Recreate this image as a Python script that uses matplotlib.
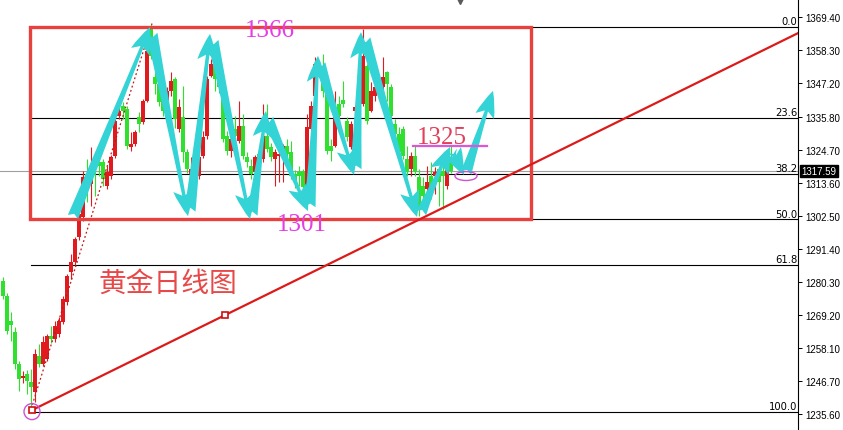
import matplotlib
matplotlib.use('Agg')
import matplotlib.pyplot as plt
import matplotlib.transforms as mtransforms
from matplotlib.patches import Rectangle, Ellipse, FancyArrowPatch

# ---------------- data ----------------
OPEN = [1280.5, 1275.5, 1267.0, 1263.3, 1252.6, 1247.8, 1249.2, 1246.5, 1243.1, 1255.2,
        1252.5, 1254.2, 1262.0, 1261.0, 1262.7, 1266.7, 1273.4, 1283.6, 1287.0, 1295.3,
        1302.1, 1316.6, 1313.2, 1322.3, 1320.6, 1320.6, 1312.5, 1315.9, 1322.7, 1336.1,
        1339.5, 1338.5, 1325.7, 1326.7, 1335.8, 1334.1, 1341.2, 1366.1, 1349.3, 1346.9,
        1342.9, 1339.5, 1344.6, 1348.6, 1331.8, 1335.8, 1324.0, 1316.6, 1318.3, 1315.9,
        1322.7, 1329.4, 1349.6, 1353.7, 1347.9, 1345.9, 1329.4, 1324.4, 1331.8, 1327.7,
        1332.8, 1322.3, 1319.3, 1317.3, 1323.3, 1321.7, 1329.4, 1325.7, 1321.7, 1322.7,
        1324.0, 1326.0, 1324.0, 1316.6, 1317.3, 1317.6, 1311.5, 1331.8, 1342.9, 1351.3,
        1353.0, 1345.2, 1326.0, 1326.0, 1340.2, 1341.5, 1334.5, 1325.7, 1337.8, 1335.1,
        1340.2, 1353.0, 1337.8, 1342.9, 1346.5, 1345.9, 1351.0, 1345.9, 1333.4, 1330.1,
        1331.8, 1321.6, 1318.3, 1322.7, 1315.6, 1312.5, 1311.5, 1315.9, 1315.9, 1318.3,
        1317.6, 1312.5, 1321.0]
HIGH = [1281.9, 1276.5, 1270.1, 1265.0, 1253.5, 1250.2, 1250.5, 1250.9, 1257.6, 1259.3,
        1262.0, 1262.7, 1265.4, 1267.0, 1268.4, 1275.5, 1282.9, 1289.6, 1295.5, 1304.0,
        1317.6, 1321.6, 1325.7, 1324.0, 1322.0, 1321.6, 1319.3, 1323.0, 1335.0, 1339.5,
        1340.9, 1339.5, 1330.8, 1331.5, 1337.5, 1342.0, 1359.7, 1367.1, 1352.0, 1348.0,
        1344.0, 1346.0, 1351.0, 1349.3, 1341.9, 1346.2, 1325.0, 1322.3, 1320.6, 1322.7,
        1331.1, 1349.5, 1355.3, 1354.3, 1349.0, 1346.2, 1331.0, 1331.8, 1336.1, 1341.2,
        1336.8, 1324.0, 1321.6, 1323.0, 1325.0, 1340.2, 1340.2, 1327.0, 1325.0, 1324.4,
        1326.7, 1328.4, 1327.7, 1318.0, 1319.3, 1318.3, 1336.8, 1341.2, 1356.0, 1354.7,
        1357.0, 1345.5, 1328.4, 1344.6, 1342.9, 1347.9, 1335.8, 1334.5, 1340.0, 1340.5,
        1365.5, 1353.7, 1347.6, 1350.3, 1349.0, 1356.0, 1351.3, 1347.0, 1335.0, 1332.4,
        1332.8, 1326.0, 1324.0, 1326.0, 1318.3, 1315.6, 1319.3, 1320.6, 1319.0, 1319.3,
        1322.7, 1322.7, 1326.0]
LOW = [1274.5, 1262.7, 1260.3, 1251.0, 1243.5, 1246.1, 1242.4, 1236.5, 1239.7, 1251.5,
       1251.9, 1253.6, 1259.6, 1260.0, 1261.5, 1266.0, 1272.4, 1281.2, 1286.0, 1294.5,
       1300.7, 1307.2, 1305.8, 1309.2, 1316.0, 1312.5, 1311.5, 1315.0, 1322.0, 1335.1,
       1335.1, 1325.0, 1324.4, 1326.0, 1330.8, 1333.5, 1340.9, 1355.3, 1343.6, 1339.5,
       1336.1, 1338.5, 1342.9, 1332.0, 1330.8, 1320.6, 1317.0, 1311.5, 1310.9, 1314.9,
       1322.0, 1328.5, 1349.3, 1344.6, 1344.0, 1327.4, 1323.0, 1322.3, 1326.7, 1327.0,
       1321.6, 1319.0, 1314.9, 1316.0, 1320.0, 1320.6, 1324.0, 1321.0, 1312.5, 1313.9,
       1313.9, 1318.3, 1314.9, 1312.0, 1312.5, 1310.9, 1310.9, 1331.0, 1341.9, 1351.0,
       1342.6, 1323.3, 1321.0, 1325.7, 1333.4, 1339.2, 1327.7, 1325.0, 1336.5, 1334.0,
       1339.5, 1333.4, 1337.5, 1341.2, 1345.0, 1341.2, 1341.2, 1335.0, 1328.5, 1322.7,
       1321.6, 1315.9, 1315.9, 1315.9, 1302.4, 1305.8, 1307.2, 1308.2, 1309.9, 1305.8,
       1304.8, 1311.5, 1317.0]
CLOSE = [1275.5, 1263.7, 1265.7, 1252.6, 1247.5, 1248.5, 1246.8, 1244.8, 1255.9, 1252.5,
         1260.0, 1262.0, 1261.0, 1265.4, 1267.0, 1274.5, 1282.2, 1287.0, 1294.7, 1303.1,
         1315.6, 1313.9, 1318.9, 1318.3, 1319.3, 1314.9, 1317.3, 1322.3, 1334.5, 1337.8,
         1337.8, 1326.0, 1326.7, 1330.8, 1333.4, 1341.2, 1358.0, 1356.4, 1346.9, 1340.9,
         1337.8, 1344.6, 1347.9, 1335.1, 1339.2, 1324.0, 1318.3, 1318.3, 1314.2, 1322.3,
         1329.1, 1348.6, 1353.7, 1348.6, 1345.9, 1328.4, 1324.4, 1328.4, 1329.4, 1332.8,
         1322.7, 1320.6, 1316.6, 1322.3, 1321.7, 1329.4, 1325.0, 1322.3, 1324.0, 1323.3,
         1326.0, 1323.3, 1315.9, 1313.9, 1315.9, 1312.2, 1332.4, 1339.5, 1353.7, 1353.0,
         1344.6, 1324.3, 1324.3, 1335.8, 1336.1, 1340.2, 1329.1, 1333.4, 1339.2, 1339.2,
         1356.4, 1334.5, 1344.6, 1345.9, 1347.6, 1349.3, 1346.9, 1336.1, 1330.1, 1324.0,
         1322.7, 1317.3, 1322.7, 1317.3, 1304.8, 1309.2, 1313.9, 1311.5, 1317.3, 1313.9,
         1315.9, 1320.6, 1317.59]

Y_TICKS = [1369.40, 1358.30, 1347.20, 1335.80, 1324.70, 1313.60, 1302.50,
           1291.40, 1280.30, 1269.20, 1258.10, 1246.70, 1235.60]
LAST_PRICE = 1317.59

FIB_HIGH = 1366.1
FIB_LOW = 1236.4
FIB_LEVELS = [0.0, 23.6, 38.2, 50.0, 61.8, 100.0]
FIB_START = 7.0

BOX_X = [6.75, 132.0]
BOX_Y = [1301.4, 1366.1]

TREND_X = [7.25, 55.5, 199.25]
TREND_Y = [1237.0, 1269.1, 1364.4]

DOT_X = [7.0, 37.25]
DOT_Y = [1237.4, 1367.3]

ARROW_START_X = [17.5, 37.25, 46.75, 52.5, 62.25, 66.25, 76.75, 79.25, 88.25, 90.5, 104.5, 112.25, 115.75]
ARROW_START_Y = [1302.1, 1363.8, 1304.1, 1361.4, 1302.8, 1335.1, 1305.5, 1353.7, 1318.3, 1362.1, 1303.4, 1324.4, 1316.9]
ARROW_END_X = [36.75, 46.25, 51.75, 61.75, 65.75, 76.25, 78.75, 87.75, 89.5, 103.5, 111.75, 115.25, 122.5]
ARROW_END_Y = [1366.1, 1302.4, 1363.8, 1301.4, 1337.8, 1304.1, 1356.4, 1316.3, 1364.4, 1302.1, 1325.7, 1316.3, 1344.6]

TEXT_1366 = ("1366", 66.75, 1365.1)
TEXT_1301 = ("1301", 74.75, 1299.7)
TEXT_1325 = ("1325", 109.75, 1329.1)
LINE_1325_X = [102.5, 121.0]
LINE_1325_Y = 1326.0
TITLE_CN = ("黄金日线图", 41.25, 1279.9)
ELLIPSE_C = (115.75, 1315.9)

# ---------------- drawing ----------------
W, H = 843, 431
fig = plt.figure(figsize=(W / 100, H / 100), dpi=100)
fig.patch.set_facecolor('white')
ax = fig.add_axes([0, 0, 798 / W, 1])
ax.set_facecolor('white')
ax.set_xlim(-0.75, 198.75)
ax.set_ylim(1230.3, 1375.57)

RED = '#e01a1e'
GREEN = '#2fe02f'
CYAN = '#33d3d6'
MAGENTA = '#e63ce6'

# current price line
ax.axhline(LAST_PRICE, color='#a0a0a0', lw=0.8, zorder=1)

# fib lines
rng = FIB_HIGH - FIB_LOW
for lev in FIB_LEVELS:
    yv = FIB_HIGH - rng * lev / 100.0
    ax.plot([FIB_START, 198.75], [yv, yv], color='black', lw=0.8, zorder=1)
    ax.text(198.6, yv + 0.3, f"{lev:.1f}", ha='right', va='bottom', fontsize=7.2,
            family='DejaVu Sans', color='black', zorder=5)

# candles
for i, (o, h, l, c) in enumerate(zip(OPEN, HIGH, LOW, CLOSE)):
    col = RED if c >= o else GREEN
    ax.plot([i, i], [l, h], color=col, lw=0.8, zorder=2, solid_capstyle='butt')
    bot = min(o, c)
    hgt = max(abs(c - o), 0.4)
    ax.bar(i, hgt, bottom=bot, width=0.78, color=col, linewidth=0, zorder=3)

# dotted fib base line
ax.plot(DOT_X, DOT_Y, color='#c01818', lw=0.9, ls=(0, (1.5, 2)), zorder=4)

# red box
ax.add_patch(Rectangle((BOX_X[0], BOX_Y[0]), BOX_X[1] - BOX_X[0], BOX_Y[1] - BOX_Y[0],
                       fill=False, edgecolor='#e8403f', lw=2.4, zorder=4))

# trend line
ax.plot([TREND_X[0], TREND_X[-1]], [TREND_Y[0], TREND_Y[-1]], color='#dc1a1a', lw=1.6, zorder=5)
ax.plot(TREND_X[:2], TREND_Y[:2], ls='none', marker='s', ms=4, mfc='white', mec='#cc1010',
        mew=1.2, zorder=6)
ax.add_patch(Ellipse((TREND_X[0], 1236.5), 4.0, 5.4, fill=False, edgecolor='#d050d0', lw=1.0, zorder=6))

# cyan arrows
for sx, sy, ex, ey in zip(ARROW_START_X, ARROW_START_Y, ARROW_END_X, ARROW_END_Y):
    ax.add_patch(FancyArrowPatch((sx, sy), (ex, ey),
                                 arrowstyle='fancy,head_length=0.95,head_width=0.7,tail_width=0.4',
                                 mutation_scale=20, color=CYAN, lw=0, shrinkA=0, shrinkB=0,
                                 zorder=7))

# texts
ax.text(TEXT_1366[1], TEXT_1366[2], TEXT_1366[0], color=MAGENTA, fontsize=18,
        family='Liberation Serif', ha='center', va='center', zorder=8)
ax.text(TEXT_1301[1], TEXT_1301[2], TEXT_1301[0], color=MAGENTA, fontsize=18,
        family='Liberation Serif', ha='center', va='center', zorder=8)
ax.text(TEXT_1325[1], TEXT_1325[2], TEXT_1325[0], color='#e0405a', fontsize=18,
        family='Liberation Serif', ha='center', va='center', zorder=8)
ax.plot(LINE_1325_X, [LINE_1325_Y, LINE_1325_Y], color='#e055d8', lw=1.6, zorder=8)
ax.add_patch(Ellipse(ELLIPSE_C, 5.5, 3.0, fill=False, edgecolor='#d050d0', lw=1.0, zorder=8))
ax.text(TITLE_CN[1], TITLE_CN[2], TITLE_CN[0], color='#e84848', fontsize=20,
        family=['Noto Sans CJK SC', 'DejaVu Sans'], ha='center', va='center', zorder=8)

# top shift marker
trans = mtransforms.blended_transform_factory(ax.transData, ax.transAxes)
ax.plot([114.25], [0.995], marker='v', ms=5, color='#5a5a5a', transform=trans, clip_on=False, zorder=9)

# axes styling
for s in ['left', 'top', 'bottom']:
    ax.spines[s].set_visible(False)
ax.spines['right'].set_color('black')
ax.spines['right'].set_linewidth(0.8)
ax.set_xticks([])
ax.yaxis.tick_right()
ax.set_yticks(Y_TICKS)
ax.set_yticklabels([f"{v:.2f}" for v in Y_TICKS])
ax.tick_params(axis='y', direction='out', length=3, width=0.7, pad=2, labelsize=7, colors='black')
for lab in ax.get_yticklabels():
    lab.set_family('Liberation Sans')

# last price tag
ytrans = mtransforms.blended_transform_factory(ax.transAxes, ax.transData)
ax.text(1.004, LAST_PRICE, f"{LAST_PRICE:.2f}", transform=ytrans, ha='left', va='center',
        fontsize=7, family='Liberation Sans', color='white', zorder=10, clip_on=False,
        bbox=dict(boxstyle='square,pad=0.15', facecolor='black', edgecolor='black'))

fig.savefig('out.png', dpi=100)
